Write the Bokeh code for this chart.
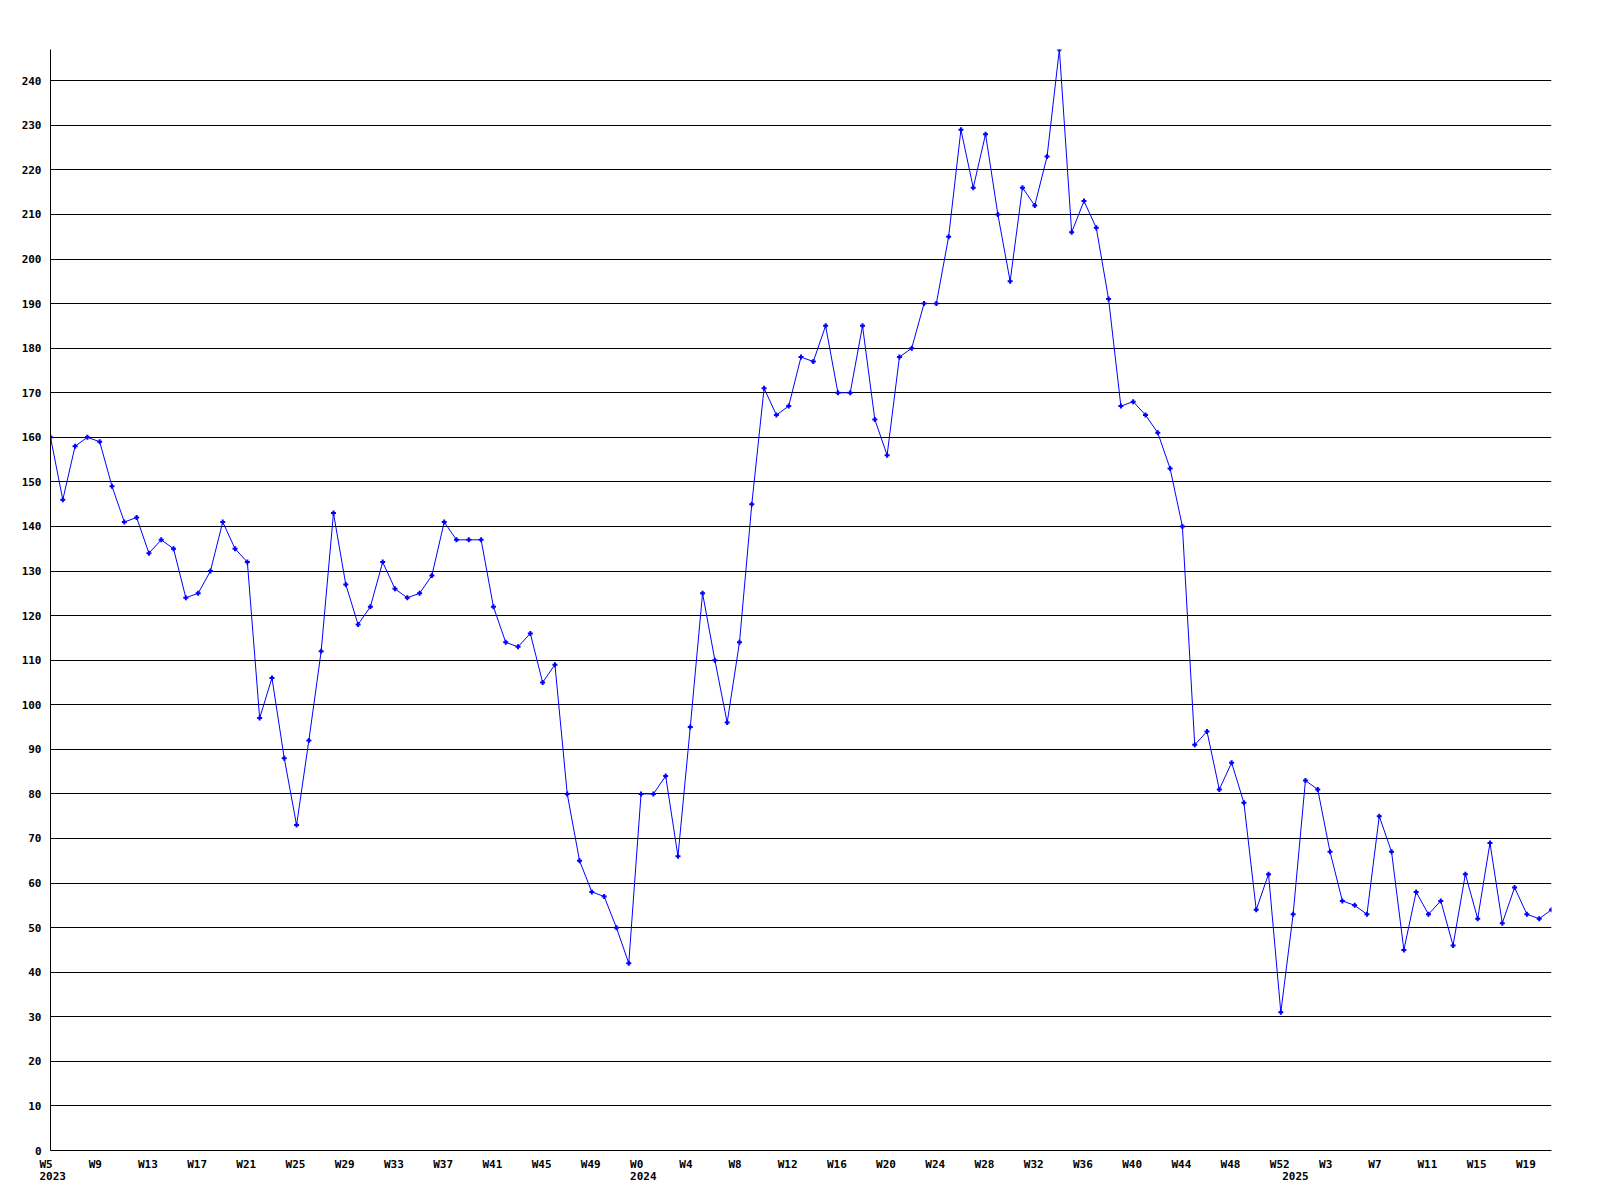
from bokeh.plotting import figure
from bokeh.layouts import column
from bokeh.models import FixedTicker, Range1d
from bokeh.core.properties import value
from bokeh.embed import file_html
from bokeh.resources import INLINE

# ---- data ----
years = [2023] * 48 + [2024] * 53 + [2025] * 22
week_numbers = list(range(5, 53)) + list(range(0, 53)) + list(range(0, 22))
week_labels = [f"W{w}" for w in week_numbers]

values = [
    160, 146, 158, 160, 159, 149, 141, 142, 134, 137,
    135, 124, 125, 130, 141, 135, 132, 97, 106, 88,
    73, 92, 112, 143, 127, 118, 122, 132, 126, 124,
    125, 129, 141, 137, 137, 137, 122, 114, 113, 116,
    105, 109, 80, 65, 58, 57, 50, 42, 80, 80,
    84, 66, 95, 125, 110, 96, 114, 145, 171, 165,
    167, 178, 177, 185, 170, 170, 185, 164, 156, 178,
    180, 190, 190, 205, 229, 216, 228, 210, 195, 216,
    212, 223, 247, 206, 213, 207, 191, 167, 168, 165,
    161, 153, 140, 91, 94, 81, 87, 78, 54, 62,
    31, 53, 83, 81, 67, 56, 55, 53, 75, 67,
    45, 58, 53, 56, 46, 62, 52, 69, 51, 59,
    53, 52, 54,
]
y_ticks = list(range(0, 250, 10))
label_every = 4

x = list(range(len(values)))

FONT = "DejaVu Sans Mono"
FONT_SIZE = "11px"
W = 1592
LEFT, RIGHT, TOP, BOTTOM = 50, 41, 49, 7
FRAME_H = 1101
LABEL_H = 40

p = figure(width=W, height=TOP + FRAME_H + BOTTOM, output_backend="svg", toolbar_location=None,
           x_range=Range1d(0, len(values) - 1), y_range=Range1d(0, max(values)),
           min_border_left=LEFT, min_border_right=RIGHT, min_border_top=TOP,
           min_border_bottom=BOTTOM)
p.outline_line_color = None
p.frame_align = False

# y axis
p.yaxis.ticker = FixedTicker(ticks=y_ticks)
p.yaxis.major_tick_out = 0
p.yaxis.major_tick_in = 0
p.yaxis.minor_tick_out = 0
p.yaxis.minor_tick_in = 0
p.yaxis.major_label_standoff = 9
p.yaxis.major_label_text_font = FONT
p.yaxis.major_label_text_font_style = "bold"
p.yaxis.major_label_text_font_size = FONT_SIZE
p.yaxis.major_label_text_color = "black"
p.yaxis.axis_line_color = "black"

# x axis: line only; labels are drawn in the strip below
p.xaxis.ticker = FixedTicker(ticks=[])
p.xaxis.major_label_text_font_size = "0px"
p.xaxis.major_label_standoff = 0
p.xaxis.major_tick_out = 0
p.xaxis.minor_tick_out = 0
p.xaxis.axis_line_color = "black"

p.xgrid.visible = False
p.ygrid.ticker = FixedTicker(ticks=y_ticks)
p.ygrid.grid_line_color = "black"
p.ygrid.grid_line_width = 1

p.line(x, values, line_color="#0000ff", line_width=1)
p.scatter(x, values, marker="cross", size=5, line_color="#0000ff", line_width=2)

# ---- label strip, same horizontal scale as the plot ----
px_per_week = (W - LEFT - RIGHT) / (len(values) - 1)
strip = figure(width=W, height=LABEL_H, output_backend="svg", toolbar_location=None,
               x_axis_location=None, y_axis_location=None,
               x_range=Range1d(-LEFT / px_per_week, (W - LEFT) / px_per_week),
               y_range=Range1d(0, LABEL_H),
               min_border_left=0, min_border_right=0, min_border_top=0, min_border_bottom=0)
strip.outline_line_color = None
strip.grid.visible = False
strip.frame_align = False

wk_x = [i for i in range(0, len(values), label_every)]
wk_t = [week_labels[i] for i in wk_x]
yr_x = [i for i in range(len(values)) if i == 0 or years[i] != years[i - 1]]
yr_t = [str(years[i]) for i in yr_x]

strip.text(x=wk_x, y=[33.5] * len(wk_x), text=wk_t, x_offset=-11,
           text_font=value(FONT), text_font_style="bold", text_font_size=FONT_SIZE,
           text_align="left", text_baseline="alphabetic", text_color="black")
strip.text(x=yr_x, y=[21.5] * len(yr_x), text=yr_t, x_offset=-11,
           text_font=value(FONT), text_font_style="bold", text_font_size=FONT_SIZE,
           text_align="left", text_baseline="alphabetic", text_color="black")

layout = column(p, strip, spacing=0)
open("out.html", "w").write(file_html(layout, INLINE))
